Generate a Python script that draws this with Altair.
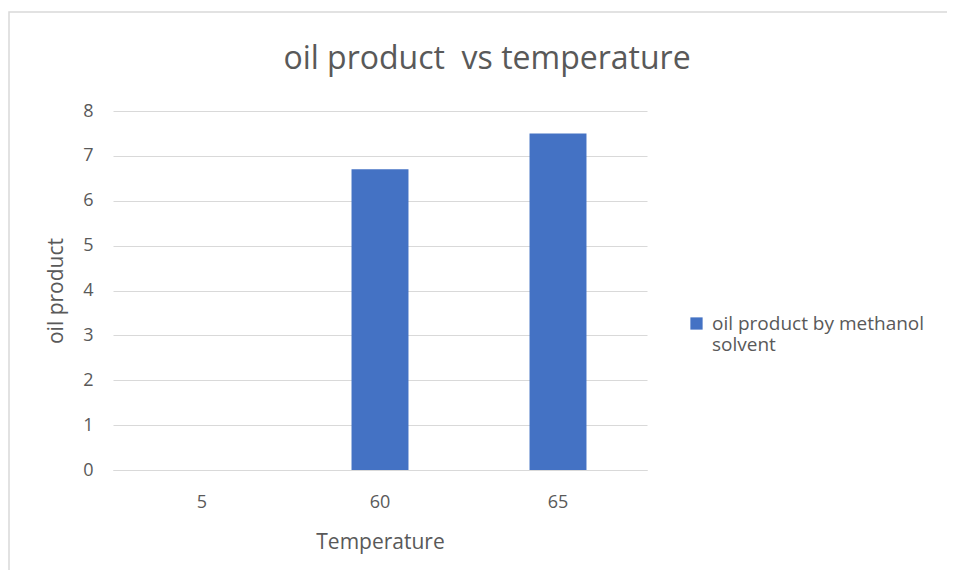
import altair as alt
import pandas as pd

temperatures = ["5", "60", "65"]
oil_product = [0, 6.7, 7.5]
series_name = "oil product by methanol solvent"

df = pd.DataFrame({
    "Temperature": temperatures,
    "oil product": oil_product,
    "series": [series_name] * len(temperatures),
})

FONT = "Open Sans"
GREY = "#595959"

bars = alt.Chart(df).mark_bar(color="#4472C4").encode(
    x=alt.X("Temperature:N", sort=temperatures,
            scale=alt.Scale(paddingInner=0.68, paddingOuter=0.34),
            axis=alt.Axis(title="Temperature", labelAngle=0, labelPadding=23,
                          labelFontSize=18, titleFontSize=21, titlePadding=20,
                          ticks=False, domainColor="#d9d9d9", labelColor=GREY,
                          titleColor=GREY, labelFont=FONT, titleFont=FONT,
                          titleFontWeight="normal")),
    y=alt.Y("oil product:Q", scale=alt.Scale(domain=[0, 8]),
            axis=alt.Axis(title="oil product", values=list(range(0, 9)),
                          ticks=False, domain=False, gridColor="#d9d9d9",
                          labelPadding=20, labelFontSize=18, titleFontSize=21,
                          titlePadding=16, labelColor=GREY, titleColor=GREY,
                          labelFont=FONT, titleFont=FONT, titleFontWeight="normal")),
    color=alt.Color("series:N", scale=alt.Scale(range=["#4472C4"]),
                    legend=alt.Legend(title=None, orient="none", legendX=574,
                                      legendY=203, symbolType="square",
                                      symbolSize=150, labelFontSize=19,
                                      labelColor=GREY, labelFont=FONT,
                                      labelLimit=400, labelOffset=6,
                                      labelExpr="['oil product by methanol', 'solvent']",
                                      labelBaseline="middle")),
)

border = alt.Chart(pd.DataFrame({"a": [0]})).mark_rect(
    fill=None, stroke="#d9d9d9", strokeWidth=1.5
).encode(x=alt.value(-104), x2=alt.value(900), y=alt.value(-99), y2=alt.value(500))

chart = alt.layer(border, bars).properties(
    width=534, height=359,
    title=alt.TitleParams("oil product\u00a0 vs temperature", fontSize=32,
                          font=FONT, fontWeight="normal", color=GREY,
                          anchor="middle", baseline="middle", dx=107,
                          offset=0, dy=80),
    autosize=alt.AutoSizeParams(type="none"),
    padding={"left": 105, "top": 103, "right": 300, "bottom": 100},
).configure_view(stroke=None)

chart.save("out.html", embed_options={"renderer": "svg", "actions": False})
